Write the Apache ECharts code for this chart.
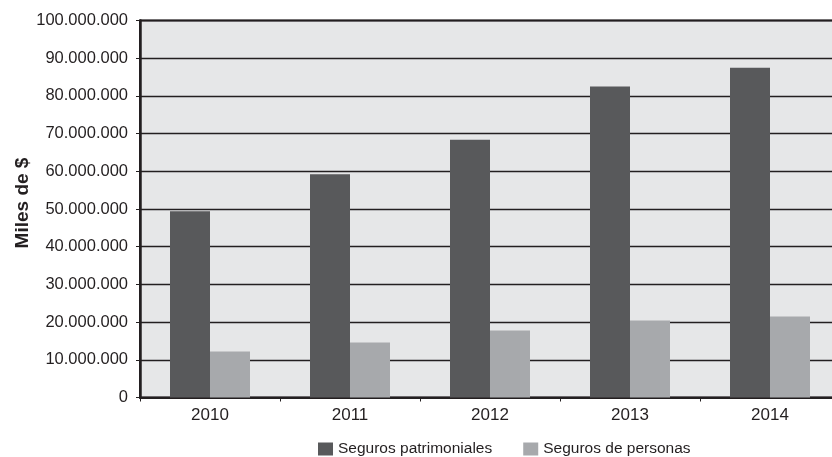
<!DOCTYPE html>
<html>
<head>
<meta charset="utf-8">
<script src="https://cdn.jsdelivr.net/npm/echarts@6/dist/echarts.min.js"></script>
<style>
  html, body { margin: 0; padding: 0; background: #ffffff; }
  #chart { width: 832px; height: 457px; }
</style>
</head>
<body>
<div id="chart"></div>
<script>
// Annual premiums by line of insurance (thousands of pesos)
const years = ['2010', '2011', '2012', '2013', '2014'];
const patrimoniales = [49400000, 59200000, 68400000, 82500000, 87500000];
const personas = [12200000, 14600000, 17800000, 20400000, 21500000];
const seriesNames = ['Seguros patrimoniales', 'Seguros de personas'];

const FONT = '"Liberation Sans", Arial, Helvetica, sans-serif';

function thousands(v) {
  return String(Math.round(v)).replace(/\B(?=(\d{3})+(?!\d))/g, '.');
}

const chart = echarts.init(document.getElementById('chart'), null, { renderer: 'canvas' });

chart.setOption({
  animation: false,
  backgroundColor: '#ffffff',
  grid: {
    left: 140,
    top: 20.5,
    width: 700,
    height: 377,
    outerBoundsMode: 'none',
    containLabel: false,
    show: true,
    backgroundColor: '#e6e7e8',
    borderColor: '#231f20',
    borderWidth: 2
  },
  legend: {
    data: seriesNames,
    left: 313,
    top: 436,
    itemWidth: 15,
    itemHeight: 13,
    itemGap: 31,
    icon: 'rect',
    textStyle: { fontFamily: FONT, fontSize: 15.5, color: '#231f20', padding: [0, 0, 0, 0] }
  },
  xAxis: {
    type: 'category',
    data: years,
    axisLine: { show: true, lineStyle: { color: '#231f20', width: 2 } },
    axisTick: { show: true, alignWithLabel: false, length: 4, lineStyle: { color: '#231f20', width: 1 } },
    axisLabel: { fontFamily: FONT, fontSize: 17, color: '#231f20', margin: 9 },
    splitLine: { show: false }
  },
  yAxis: {
    type: 'value',
    min: 0,
    max: 100000000,
    interval: 10000000,
    name: 'Miles de $',
    nameLocation: 'middle',
    nameGap: 108,
    nameMoveOverlap: false,
    nameTextStyle: { fontFamily: FONT, fontWeight: 'bold', fontSize: 19, color: '#231f20', padding: [0, 0, 0, 12] },
    axisLine: { show: true, lineStyle: { color: '#231f20', width: 2.5 } },
    axisTick: { show: true, length: 4, lineStyle: { color: '#231f20', width: 1 } },
    axisLabel: { fontFamily: FONT, fontSize: 16.5, color: '#231f20', margin: 12, formatter: thousands },
    splitLine: { show: true, lineStyle: { color: '#231f20', width: 1.3 } }
  },
  series: [
    {
      name: seriesNames[0],
      type: 'bar',
      data: patrimoniales,
      barWidth: 40,
      barGap: '0%',
      itemStyle: { color: '#58595b' },
      z: 3
    },
    {
      name: seriesNames[1],
      type: 'bar',
      data: personas,
      barWidth: 40,
      barGap: '0%',
      itemStyle: { color: '#a7a9ac' },
      z: 3
    }
  ]
});
</script>
</body>
</html>
